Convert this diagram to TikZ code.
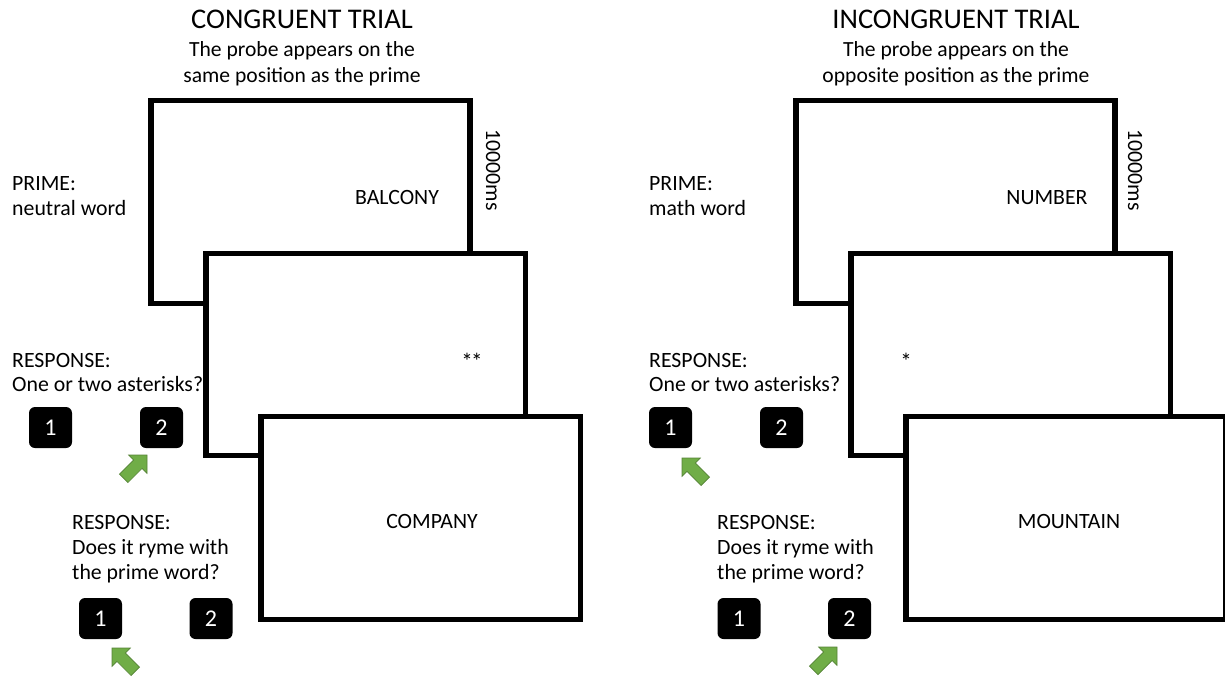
\documentclass[tikz,border=0pt]{standalone}
\usepackage{fontspec}
\setmainfont{Carlito}
\begin{document}
\begin{tikzpicture}[x=1pt,y=-1pt,
  screen/.style={draw=black,line width=5.5pt,fill=white},
  txt/.style={inner sep=0pt,font=\fontsize{21.8}{26}\selectfont},
  lbl/.style={txt,anchor=base west},
  word/.style={txt,anchor=base},
  ttl/.style={inner sep=0pt,anchor=base,font=\fontsize{28.5}{32}\selectfont},
  sub/.style={inner sep=0pt,anchor=base,font=\fontsize{21.6}{26}\selectfont},
  key/.style={fill=black,rounded corners=6pt,minimum width=43pt,minimum height=41pt,inner sep=0pt,text=white,font=\fontsize{24}{28}\selectfont},
  garrow/.pic={\fill[fill={rgb,255:red,112;green,173;blue,71},draw={rgb,255:red,84;green,130;blue,53},line width=0.7pt]
     (0,0) -- (-13,13) -- (-13,6) -- (-33,6) -- (-33,-6) -- (-13,-6) -- (-13,-13) -- cycle;}
]
\useasboundingbox (0,0) rectangle (1225,678);
% ---------- left panel
\node[ttl] (t1) at (302,28) {CONGRUENT TRIAL};
\node[sub] (s1a) at (302,56) {The probe appears on the};
\node[sub] (s1b) at (302,82) {same position as the prime};
\draw[screen] (151,100.5) rectangle (470,303.5);
\node[word] (w1) at (397,204.5) {BALCONY};
\node[txt,rotate=-90] (ms1) at (493,170) {10000ms};
\draw[screen] (206,253.5) rectangle (525.5,455.5);
\node[word,font=\fontsize{23}{26}\selectfont] (a1) at (472,369) {*\kern-1.8pt*};
\draw[screen] (261,416.5) rectangle (580.5,619.5);
\node[word] (c1) at (432,528.5) {COMPANY};
\node[lbl] (p1) at (12,190) {PRIME:};
\node[lbl] (p1b) at (12,215) {neutral word};
\node[lbl] (r1) at (12,367) {RESPONSE:};
\node[lbl] (r1b) at (12,391.5) {One or two asterisks?};
\node[key] (k1a) at (50.5,427.5) {1};
\node[key] (k1b) at (161.5,427.5) {2};
\pic[rotate=45] at (147,455) {garrow};
\node[lbl] (q1) at (72,529) {RESPONSE:};
\node[lbl] (q1b) at (72,554) {Does it ryme with};
\node[lbl] (q1c) at (72,579) {the prime word?};
\node[key] (k1c) at (100.5,618.5) {1};
\node[key] (k1d) at (211,618.5) {2};
\pic[rotate=135] at (112,648) {garrow};
% ---------- right panel
\node[ttl] (t2) at (956,28) {INCONGRUENT TRIAL};
\node[sub] (s2a) at (956,56) {The probe appears on the};
\node[sub] (s2b) at (956,82) {opposite position as the prime};
\draw[screen] (796,100.5) rectangle (1115,303.5);
\node[word] (w2) at (1047,204.5) {NUMBER};
\node[txt,rotate=-90] (ms2) at (1135,170) {10000ms};
\draw[screen] (851,253.5) rectangle (1170.5,455.5);
\node[word,font=\fontsize{23}{26}\selectfont] (a2) at (906,369) {*};
\draw[screen] (906,416.5) rectangle (1226,619.5);
\node[word] (c2) at (1069,528.5) {MOUNTAIN};
\node[lbl] (p2) at (649,190) {PRIME:};
\node[lbl] (p2b) at (649,215) {math word};
\node[lbl] (r2) at (649,367) {RESPONSE:};
\node[lbl] (r2b) at (649,391.5) {One or two asterisks?};
\node[key] (k2a) at (670.5,427.5) {1};
\node[key] (k2b) at (781.5,427.5) {2};
\pic[rotate=135] at (682,458) {garrow};
\node[lbl] (q2) at (717,529) {RESPONSE:};
\node[lbl] (q2b) at (717,554) {Does it ryme with};
\node[lbl] (q2c) at (717,579) {the prime word?};
\node[key] (k2c) at (739,618.5) {1};
\node[key] (k2d) at (849.5,618.5) {2};
\pic[rotate=45] at (837,647) {garrow};
\end{tikzpicture}
\end{document}
